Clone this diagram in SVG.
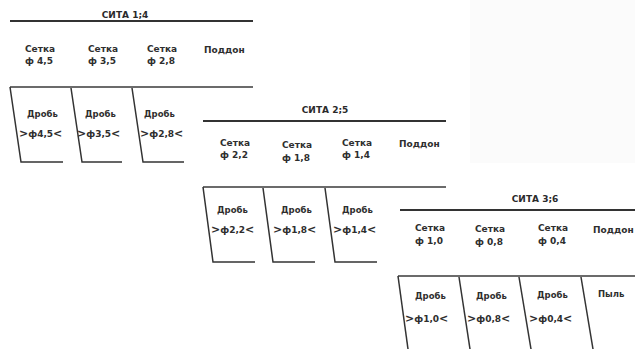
<svg xmlns="http://www.w3.org/2000/svg" width="635" height="349" viewBox="0 0 635 349">
<style>
text{font-family:"DejaVu Sans","Liberation Sans",sans-serif;font-weight:bold;fill:#2e2e2e;font-size:9px}
.t{font-size:9px;text-anchor:middle;fill:#2a2a2a}
.d{font-size:8.5px}
.c{font-size:11px}
.h{stroke:#333;stroke-width:2;fill:none}
.h2{stroke:#3a3a3a;stroke-width:1.6;fill:none}
.w{stroke:#333;stroke-width:1.5;fill:none}
</style>
<rect width="635" height="349" fill="#fff"/>
<rect x="470" y="0" width="165" height="163" fill="#fbfbfb"/>

<g id="set1">
<text class="t" x="125" y="17.5">СИТА 1;4</text>
<line class="h" x1="10" y1="21" x2="253" y2="21"/>
<text x="25" y="52">Сетка</text><text x="25" y="64">ф 4,5</text>
<text x="88" y="52">Сетка</text><text x="88" y="64">ф 3,5</text>
<text x="147" y="52">Сетка</text><text x="147" y="64">ф 2,8</text>
<text x="204" y="53">Поддон</text>
<line class="h2" x1="10" y1="87" x2="253" y2="87"/>
<g id="bin1-1"><polyline class="w" points="10,87 21,162 63,162"/><text class="d" x="27" y="117">Дробь</text><text x="19" y="137"><tspan class="c">&gt;</tspan>ф4,5<tspan class="c">&lt;</tspan></text></g>
<g id="bin1-2"><polyline class="w" points="71,88 82,162 122,162"/><text class="d" x="85" y="117">Дробь</text><text x="77" y="137"><tspan class="c">&gt;</tspan>ф3,5<tspan class="c">&lt;</tspan></text></g>
<g id="bin1-3"><polyline class="w" points="132,88 143,162 184,162"/><text class="d" x="144" y="117">Дробь</text><text x="140" y="137"><tspan class="c">&gt;</tspan>ф2,8<tspan class="c">&lt;</tspan></text></g>
</g>

<g id="set2">
<text class="t" x="325" y="113">СИТА 2;5</text>
<line class="h" x1="203" y1="121" x2="446" y2="121"/>
<text x="220" y="146">Сетка</text><text x="220" y="158">ф 2,2</text>
<text x="282" y="148">Сетка</text><text x="282" y="161">ф 1,8</text>
<text x="342" y="146">Сетка</text><text x="342" y="158">ф 1,4</text>
<text x="399" y="147">Поддон</text>
<line class="h2" x1="203" y1="187" x2="446" y2="187"/>
<g id="bin2-1"><polyline class="w" points="203,187 213,262 255,262"/><text class="d" x="217" y="213">Дробь</text><text x="211" y="233"><tspan class="c">&gt;</tspan>ф2,2<tspan class="c">&lt;</tspan></text></g>
<g id="bin2-2"><polyline class="w" points="263,188 273,262 315,262"/><text class="d" x="281" y="213">Дробь</text><text x="273" y="233"><tspan class="c">&gt;</tspan>ф1,8<tspan class="c">&lt;</tspan></text></g>
<g id="bin2-3"><polyline class="w" points="325,188 335,262 377,262"/><text class="d" x="342" y="213">Дробь</text><text x="333" y="233"><tspan class="c">&gt;</tspan>ф1,4<tspan class="c">&lt;</tspan></text></g>
</g>

<g id="set3">
<text class="t" x="535" y="202">СИТА 3;6</text>
<line class="h" x1="400" y1="210" x2="635" y2="210"/>
<text x="415" y="231">Сетка</text><text x="415" y="244">ф 1,0</text>
<text x="475" y="232">Сетка</text><text x="475" y="245">ф 0,8</text>
<text x="538" y="231">Сетка</text><text x="538" y="244">ф 0,4</text>
<text x="593" y="233">Поддон</text>
<line class="h2" x1="398" y1="276" x2="635" y2="276"/>
<g id="bin3-1"><polyline class="w" points="398,276 408,349"/><text class="d" x="415" y="299">Дробь</text><text x="405" y="322"><tspan class="c">&gt;</tspan>ф1,0<tspan class="c">&lt;</tspan></text></g>
<g id="bin3-2"><polyline class="w" points="459,277 470,349"/><text class="d" x="476" y="299">Дробь</text><text x="467" y="322"><tspan class="c">&gt;</tspan>ф0,8<tspan class="c">&lt;</tspan></text></g>
<g id="bin3-3"><polyline class="w" points="519,277 531,349"/><text class="d" x="537" y="298">Дробь</text><text x="529" y="322"><tspan class="c">&gt;</tspan>ф0,4<tspan class="c">&lt;</tspan></text></g>
<g id="bin3-4"><polyline class="w" points="581,277 593,349"/><text class="d" x="598" y="297">Пыль</text></g>
</g>
</svg>
